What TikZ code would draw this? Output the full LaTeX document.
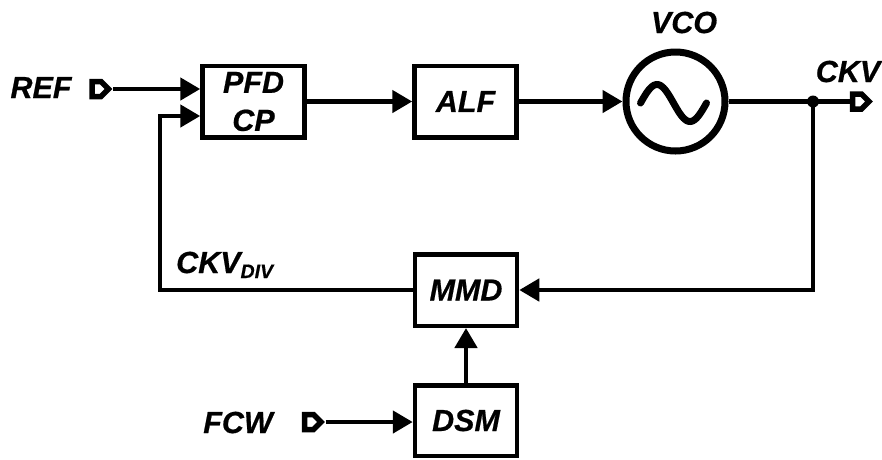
\documentclass[tikz,border=0pt]{standalone}
\usepackage{fontspec}
\setmainfont{Liberation Sans}
\newfontfamily\lblfont{Liberation Sans}[BoldItalicFeatures={FakeBold=0.6}]
\usetikzlibrary{arrows.meta}
\begin{document}
\begin{tikzpicture}[x=1pt,y=-1pt,
  txt/.style={font=\lblfont\fontsize{30.5}{38}\selectfont\bfseries\itshape},
  lbl/.style={txt, inner sep=0pt},
  blk/.style={txt, draw, line width=4.5pt, minimum width=102pt, minimum height=71.5pt, inner sep=0pt, align=center},
  port/.style={minimum width=23pt, minimum height=20pt, inner sep=0pt, outer sep=0pt},
  portline/.style={draw, line width=5.5pt, fill=white, line join=miter},
  wire/.style={line width=4.6pt},
  arr/.style={wire, -{Triangle[length=20pt,width=22pt]}},
]
\useasboundingbox (0,0) rectangle (882,459);

% blocks
\node[blk] (pfd) at (253.5,101.5) {PFD\\CP};
\node[blk] (alf) at (465.5,101.5) {ALF};
\node[blk] (mmd) at (466,290) {MMD};
\node[blk, minimum height=70.5pt] (dsm) at (466,420.5) {DSM};
\node[draw, circle, line width=7pt, minimum size=99pt, inner sep=0pt] (vco) at (675.5,101.5) {};
\begin{scope}[shift={(vco.center)}]
  \draw[line width=7pt, line cap=round] plot[domain=0:360, samples=50, smooth]
    ({-35+\x/360*66}, {1.5-18.5*sin(\x)});
\end{scope}

% ports
\node[port] (refp) at (101.5,89) {};
\node[port] (ckvp) at (862,101.5) {};
\node[port] (fcwp) at (314,422) {};
\foreach \p in {refp,ckvp,fcwp}
  \path[portline] ([shift={(-9.5,-7.5)}]\p.center) -- ([shift={(-0.5,-7.5)}]\p.center)
    -- ([shift={(7,0)}]\p.center) -- ([shift={(-0.5,7.5)}]\p.center)
    -- ([shift={(-9.5,7.5)}]\p.center) -- cycle;

% labels
\node[lbl, anchor=base] (reflbl) at (41,98) {REF};
\node[lbl, anchor=base] (vcolbl) at (684,33) {VCO};
\node[lbl, anchor=base] (ckvlbl) at (848,82) {CKV};
\node[lbl, anchor=base west] (divlbl) at (176,273) {CKV\raisebox{-5pt}{\fontsize{19.5}{20}\selectfont DIV}};
\node[lbl, anchor=base] (fcwlbl) at (238,433) {FCW};

% helper points
\coordinate (split) at (813,101.5);
\coordinate (fbl) at (160,290);
\coordinate (fbt) at (160,116);

% connectors
\draw[arr] (refp.east) -- (refp.east -| pfd.west);
\draw[arr] (mmd.west) -- (fbl) -- (fbt) -- (fbt -| pfd.west);
\draw[arr] (pfd.east) -- (alf.west);
\draw[arr] (alf.east) -- (vco.west);
\draw[wire] (vco.east) -- (ckvp.west);
\fill (split) circle (6pt);
\draw[arr] (split) |- (mmd.east);
\draw[arr] (dsm.north) -- (mmd.south);
\draw[arr] (fcwp.east) -- (fcwp.east -| dsm.west);
\end{tikzpicture}
\end{document}
